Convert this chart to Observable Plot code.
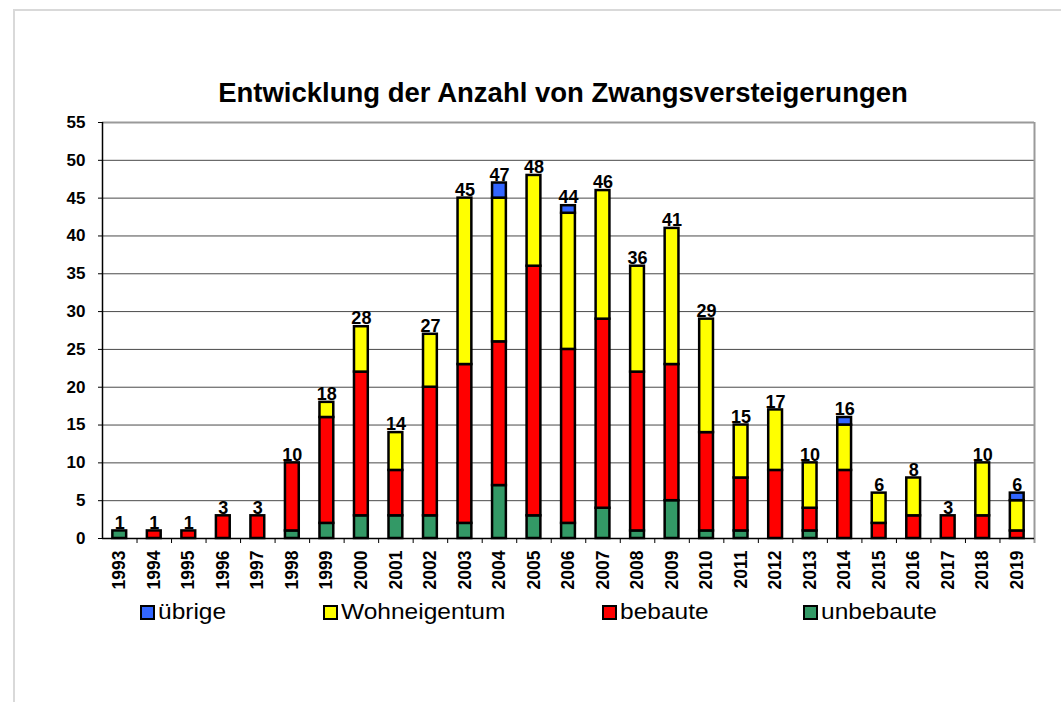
<!DOCTYPE html>
<html>
<head>
<meta charset="utf-8">
<script src="https://cdn.jsdelivr.net/npm/d3@7"></script>
<script src="https://cdn.jsdelivr.net/npm/@observablehq/plot@0.6"></script>
<style>
  html, body { margin: 0; padding: 0; background: #fff; overflow: hidden; }
  body { width: 1061px; height: 702px; position: relative; font-family: "Liberation Sans", Arial, sans-serif; }
  #frame { position: absolute; left: 13px; top: 9px; width: 1100px; height: 800px; border-left: 2px solid #d9d9d9; border-top: 2px solid #d9d9d9; }
  #title { position: absolute; left: 0; width: 1126px; top: 78px; text-align: center; font-weight: bold; font-size: 27.5px; line-height: 30px; color: #000; }
  #chart { position: absolute; left: 0; top: 0; }
  .leg { position: absolute; top: 600px; height: 24px; display: flex; align-items: center; }
  .sw { width: 11px; height: 11px; border: 2px solid #000; margin-right: 3px; flex: none; }
  .lt { font-size: 21.5px; transform: scaleX(1.14); transform-origin: left center; white-space: nowrap; color: #000; }
</style>
</head>
<body>
<div id="frame"></div>
<div id="chart"></div>
<div id="title">Entwicklung der Anzahl von Zwangsversteigerungen</div>
<div id="legend"></div>
<script>
const years = ["1993","1994","1995","1996","1997","1998","1999","2000","2001","2002","2003","2004","2005","2006","2007","2008","2009","2010","2011","2012","2013","2014","2015","2016","2017","2018","2019"];
const unbebaute    = [1,0,0,0,0,1,2,3,3,3,2,7,3,2,4,1,5,1,1,0,1,0,0,0,0,0,0];
const bebaute      = [0,1,1,3,3,9,14,19,6,17,21,19,33,23,25,21,18,13,7,9,3,9,2,3,3,3,1];
const wohneigentum = [0,0,0,0,0,0,2,6,5,7,22,19,12,18,17,14,18,15,7,8,6,6,4,5,0,7,4];
const uebrige      = [0,0,0,0,0,0,0,0,0,0,0,2,0,1,0,0,0,0,0,0,0,1,0,0,0,0,1];
const seriesNames  = ["unbebaute","bebaute","Wohneigentum","übrige"];
const seriesColors = ["#339966","#ff0000","#ffff00","#3366ff"];
const legendOrder  = ["übrige","Wohneigentum","bebaute","unbebaute"];
const yTicks = [0,5,10,15,20,25,30,35,40,45,50,55];

const seriesValues = [unbebaute, bebaute, wohneigentum, uebrige];
const rows = [];
seriesNames.forEach((s, k) => years.forEach((y, i) => {
  if (seriesValues[k][i] > 0) rows.push({year: y, series: s, value: seriesValues[k][i]});
}));
const totals = years.map((y, i) => ({year: y, total: seriesValues.reduce((a, v) => a + v[i], 0)}));

const W = 1061, H = 600, ML = 102, MR = 27, MT = 122, MB = 62;
const step = (W - ML - MR) / years.length;
const belowZero = -5 / ((H - MT - MB) / 55);

const plot = Plot.plot({
  width: W, height: H,
  marginLeft: ML, marginRight: MR, marginTop: MT, marginBottom: MB,
  style: {fontFamily: "'Liberation Sans', Arial, sans-serif", color: "#000", background: "transparent", overflow: "visible"},
  x: {domain: years, paddingInner: 0.6, paddingOuter: 0.3, align: 0.5, round: false, label: null},
  y: {domain: [0, 55], label: null},
  color: {domain: seriesNames, range: seriesColors},
  marks: [
    Plot.gridY(yTicks.filter(t => t > 0 && t < 55), {stroke: "#4a4a4a", strokeOpacity: 1, strokeWidth: 1}),
    Plot.ruleY([55], {stroke: "#9a9a9a", strokeWidth: 2}),
    Plot.ruleX([years[years.length - 1]], {y1: belowZero, y2: 55, dx: step / 2, stroke: "#9a9a9a", strokeWidth: 2}),
    Plot.ruleX(years.slice(1), {y1: belowZero, y2: 0, dx: -step / 2, stroke: "#000", strokeWidth: 1}),
    Plot.barY(rows, {x: "year", y: "value", fill: "series", order: seriesNames, stroke: "#000", strokeWidth: 2.5}),
    Plot.ruleY([0], {stroke: "#000", strokeWidth: 1.5}),
    Plot.ruleX([years[0]], {y1: 0, y2: 55, dx: -step / 2, stroke: "#000", strokeWidth: 1.5}),
    Plot.axisY({ticks: yTicks, tickSize: 4, tickPadding: 13, fontSize: 17, fontWeight: "bold", anchor: "left", label: null}),
    Plot.axisX({tickSize: 0, tickPadding: 12, tickRotate: -90, fontSize: 17.5, fontWeight: "bold", label: null}),
    Plot.text(totals, {x: "year", y: "total", text: d => String(d.total), dy: -8, fontSize: 18, fontWeight: "bold", fill: "#000"})
  ]
});
document.getElementById("chart").appendChild(plot);

const legendX = {"übrige": 140, "Wohneigentum": 323, "bebaute": 602, "unbebaute": 803};
const leg = document.getElementById("legend");
legendOrder.forEach(name => {
  const item = document.createElement("div");
  item.className = "leg";
  item.style.left = legendX[name] + "px";
  const sw = document.createElement("div");
  sw.className = "sw";
  sw.style.background = seriesColors[seriesNames.indexOf(name)];
  const t = document.createElement("span");
  t.className = "lt";
  t.textContent = name;
  item.appendChild(sw); item.appendChild(t);
  leg.appendChild(item);
});
</script>
</body>
</html>
